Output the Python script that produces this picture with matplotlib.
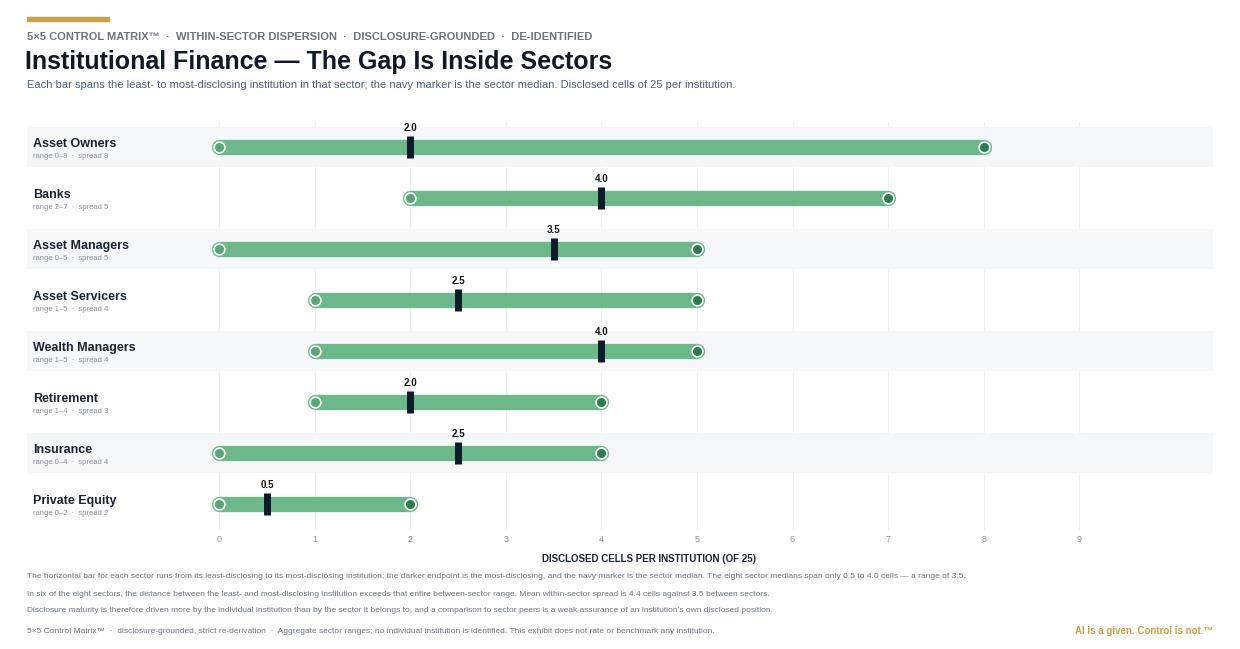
import matplotlib.pyplot as plt
from matplotlib.patches import Rectangle

plt.rcParams['font.family'] = ['Liberation Sans', 'DejaVu Sans']

sectors = ["Asset Owners", "Banks", "Asset Managers", "Asset Servicers",
           "Wealth Managers", "Retirement", "Insurance", "Private Equity"]
lows = [0, 2, 0, 1, 1, 1, 0, 0]
highs = [8, 7, 5, 5, 5, 4, 4, 2]
medians = [2.0, 4.0, 3.5, 2.5, 4.0, 2.0, 2.5, 0.5]

W, H = 1240, 649
fig = plt.figure(figsize=(W / 100, H / 100), dpi=100)
ax = fig.add_axes([27 / W, 1 - 529.5 / H, (1213 - 27) / W, (529.5 - 121.5) / H])
ax.set_xlim(-2.01, 10.4)
ax.set_ylim(len(sectors) - 0.5, -0.5)

for x in range(10):
    ax.plot([x, x], [-0.5, len(sectors) - 0.5], color='#eef0f3', lw=0.8, zorder=0)

for i, (name, lo, hi, med) in enumerate(zip(sectors, lows, highs, medians)):
    if i % 2 == 0:
        ax.add_patch(Rectangle((-2.01, i - 0.4), 12.41, 0.8, color='#f6f7f9', zorder=0, lw=0))
    ax.plot([lo, hi], [i, i], color='#6db88a', lw=11, solid_capstyle='round', zorder=2)
    ax.scatter([lo], [i], s=60, color='#5aa67a', edgecolor='white', lw=1.2, zorder=3)
    ax.scatter([hi], [i], s=60, color='#2e7d4f', edgecolor='white', lw=1.2, zorder=3)
    ax.plot([med, med], [i - 0.21, i + 0.21], color='#0d1b2a', lw=5, solid_capstyle='butt', zorder=4)
    ax.text(med, i - 0.27, f"{med:.1f}", ha='center', va='bottom', fontsize=7,
            fontweight='bold', color='#111')
    ax.text(-1.95, i - 0.05, name, ha='left', va='center', fontsize=9,
            fontweight='bold', color='#1a2332')
    ax.text(-1.95, i + 0.19, f"range {lo}\u2013{hi}  \u00b7  spread {hi - lo}", ha='left',
            va='center', fontsize=5.5, color='#8a8f98')

ax.set_xticks(range(10))
ax.tick_params(axis='x', length=0, labelsize=6.5, labelcolor='#8a8f98', pad=4)
ax.set_yticks([])
for s in ax.spines.values():
    s.set_visible(False)
ax.set_xlabel("DISCLOSED CELLS PER INSTITUTION (OF 25)", fontsize=7, fontweight='bold',
              color='#1a2332', labelpad=6)
ax.xaxis.set_label_coords((649 - 27) / (1213 - 27), -0.06)

fig.add_artist(Rectangle((27 / W, 1 - 21 / H), 82 / W, 4 / H, color='#c9a14a',
                         transform=fig.transFigure))
fig.text(27 / W, 1 - 37 / H, "5\u00d75 CONTROL MATRIX\u2122  \u00b7  WITHIN-SECTOR DISPERSION  \u00b7  "
         "DISCLOSURE-GROUNDED  \u00b7  DE-IDENTIFIED", fontsize=8, fontweight='bold',
         color='#6b7280', va='center')
fig.text(25 / W, 1 - 62 / H, "Institutional Finance \u2014 The Gap Is Inside Sectors",
         fontsize=18, fontweight='bold', color='#111827', va='center')
fig.text(27 / W, 1 - 85 / H, "Each bar spans the least- to most-disclosing institution in that "
         "sector; the navy marker is the sector median. Disclosed cells of 25 per institution.",
         fontsize=8, color='#4a5f80', va='center')

notes = [
    "The horizontal bar for each sector runs from its least-disclosing to its most-disclosing "
    "institution; the darker endpoint is the most-disclosing, and the navy marker is the sector "
    "median. The eight sector medians span only 0.5 to 4.0 cells \u2014 a range of 3.5.",
    "In six of the eight sectors, the distance between the least- and most-disclosing institution "
    "exceeds that entire between-sector range. Mean within-sector spread is 4.4 cells against 3.5 "
    "between sectors.",
    "Disclosure maturity is therefore driven more by the individual institution than by the sector "
    "it belongs to, and a comparison to sector peers is a weak assurance of an institution\u2019s "
    "own disclosed position.",
]
for k, n in enumerate(notes):
    fig.text(27 / W, 1 - (577 + 17 * k) / H, n, fontsize=6, color='#6b7280', va='center')

fig.text(27 / W, 1 - 631 / H, "5\u00d75 Control Matrix\u2122  \u00b7  disclosure-grounded, strict "
         "re-derivation  \u00b7  Aggregate sector ranges; no individual institution is identified. "
         "This exhibit does not rate or benchmark any institution.",
         fontsize=6, color='#6b7280', va='center')
fig.text(1213 / W, 1 - 631 / H, "AI is a given. Control is not.\u2122", fontsize=7,
         fontweight='bold', color='#c9a14a', va='center', ha='right')

fig.savefig('out.png', dpi=100)
